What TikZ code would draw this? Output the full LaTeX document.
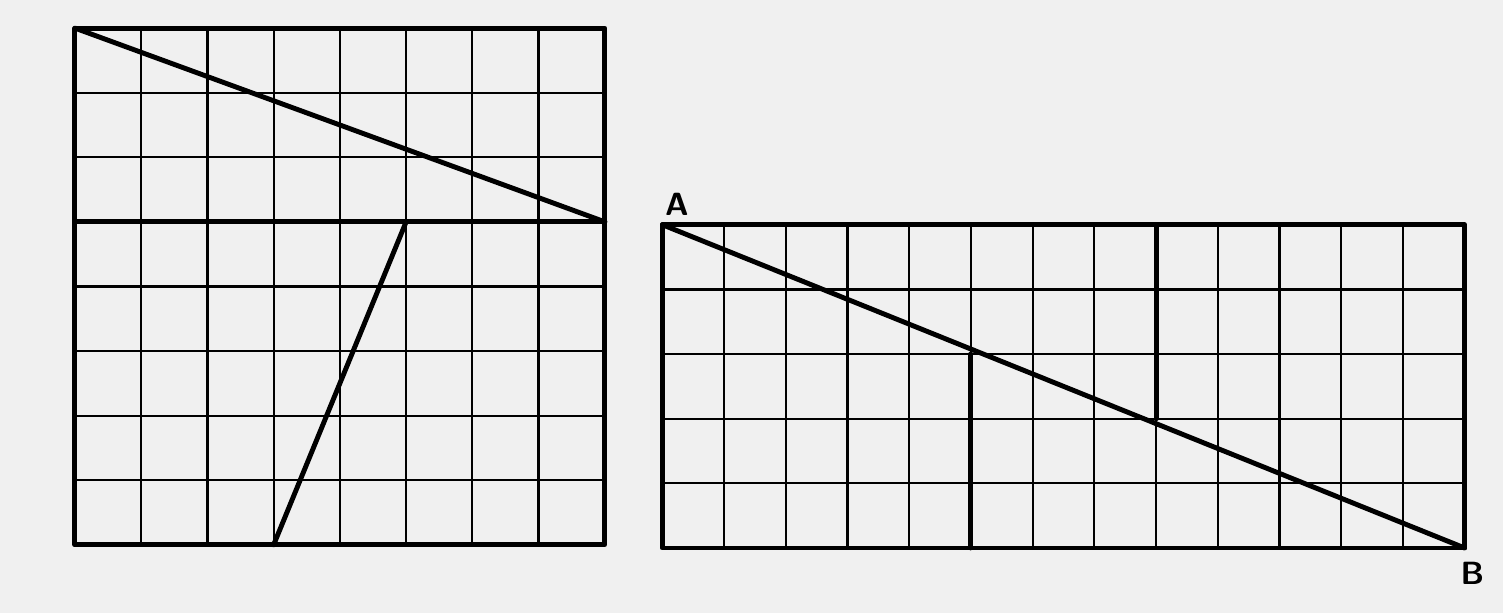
\documentclass[tikz,border=0pt]{standalone}
\usepackage{tikz}
\usetikzlibrary{positioning}

\begin{document}
\begin{tikzpicture}[
          thinline/.style={line width=1pt},
          cutline/.style={line width=2.2pt, line cap=round, line join=round},
          corner/.style={font=\sffamily\bfseries\Large, inner sep=2pt}
        ]
          \fill[black!6] (0,0) rectangle (23.67,9.65);
          \useasboundingbox (0,0) rectangle (23.67,9.65);
          % left square 8 x 8
          \begin{scope}[shift={(1.18,1.07)}, xscale=1.043, yscale=1.017]
            \foreach \i in {1,...,7} {
              \draw[thinline] (\i,0) -- (\i,8);
              \draw[thinline] (0,\i) -- (8,\i);
            }
            \coordinate (sq-ll) at (0,0);
            \coordinate (sq-ur) at (8,8);
            \coordinate (sq-ul) at (0,8);
            \coordinate (sq-mr) at (8,5);
            \coordinate (sq-ml) at (0,5);
            \coordinate (sq-b) at (3,0);
            \coordinate (sq-t) at (5,5);
            \draw[cutline] (sq-ll) rectangle (sq-ur);
            \draw[cutline] (sq-ml) -- (sq-mr);
            \draw[cutline] (sq-ul) -- (sq-mr);
            \draw[cutline] (sq-b) -- (sq-t);
          \end{scope}
          % right rectangle 13 x 5
          \begin{scope}[shift={(10.43,1.02)}, xscale=0.972, yscale=1.018]
            \foreach \i in {1,...,12}
              \draw[thinline] (\i,0) -- (\i,5);
            \foreach \j in {1,...,4}
              \draw[thinline] (0,\j) -- (13,\j);
            \coordinate (re-ll) at (0,0);
            \coordinate (re-ul) at (0,5);
            \coordinate (re-lr) at (13,0);
            \coordinate (re-ur) at (13,5);
            \node[corner, above left=2pt and -14pt] (A) at (re-ul) {A};
            \node[corner, below right=4pt and -4pt] (B) at (re-lr) {B};
            \coordinate (re-p) at (5,0);
            \coordinate (re-q) at (5,3);
            \coordinate (re-r) at (8,2);
            \coordinate (re-s) at (8,5);
            \draw[cutline] (re-ll) rectangle (re-ur);
            \draw[cutline] (re-ul) -- (re-lr);
            \draw[cutline] (re-p) -- (re-q);
            \draw[cutline] (re-r) -- (re-s);
          \end{scope}
        \end{tikzpicture}
\end{document}
